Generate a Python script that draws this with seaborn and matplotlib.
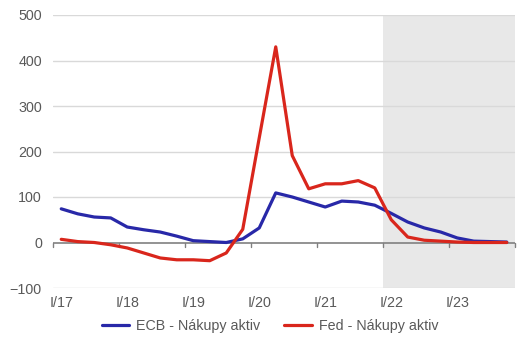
import matplotlib
matplotlib.use("Agg")
import matplotlib.pyplot as plt
import seaborn as sns
import pandas as pd
import numpy as np

quarters = [f"{q}/{y}" for y in range(17, 24) for q in ["I", "II", "III", "IV"]]
ecb = [74, 63, 56, 54, 34, 28, 23, 14, 4, 2, 0, 8, 32, 109,
       100, 89, 78, 91, 89, 82, 64, 45, 32, 23, 10, 3, 2, 1]
fed = [7, 2, 0, -5, -12, -23, -34, -38, -38, -40, -23, 29, 230, 430,
       191, 118, 129, 129, 136, 120, 50, 12, 5, 3, 1, 0, 0, 0]
tick_labels = ["I/17", "I/18", "I/19", "I/20", "I/21", "I/22", "I/23"]
series_names = ["ECB - Nákupy aktiv", "Fed - Nákupy aktiv"]

df = pd.DataFrame({
    "idx": list(range(len(quarters))) * 2,
    "value": ecb + fed,
    "series": [series_names[0]] * len(quarters) + [series_names[1]] * len(quarters),
})

sns.set_style("white")
plt.rcParams["font.family"] = ["Liberation Sans", "DejaVu Sans"]

fig = plt.figure(figsize=(5.25, 3.5), dpi=100)
ax = fig.add_axes([53 / 525, 1 - 288 / 350, (515 - 53) / 525, (288 - 15) / 350])

n = len(quarters)
ax.axvspan(19.5, n - 0.5, color="#E8E8E8", zorder=0, lw=0)
for v in [-100, 100, 200, 300, 400, 500]:
    ax.axhline(v, color="#D9D9D9", lw=1, zorder=1)
ax.axhline(0, color="#808080", lw=1.2, zorder=2)
for b in np.arange(-0.5, n, 4):
    ax.plot([b, b], [0, -9], color="#808080", lw=1, zorder=2, clip_on=False)

sns.lineplot(data=df, x="idx", y="value", hue="series",
             palette=["#2828A8", "#D9261C"], linewidth=2.3, ax=ax,
             legend=True, zorder=3)

fs = 10.3
ax.set_xlim(-0.5, n - 0.5)
ax.set_ylim(-100, 500)
ax.set_yticks([-100, 0, 100, 200, 300, 400, 500])
ax.set_xticks(range(0, n, 4))
ax.set_xticklabels(tick_labels)
ax.tick_params(axis="both", length=0, labelsize=fs, labelcolor="#595959")
ax.tick_params(axis="x", pad=6)
ax.tick_params(axis="y", pad=8)
ax.set_xlabel("")
ax.set_ylabel("")
for s in ax.spines.values():
    s.set_visible(False)

handles, labels = ax.get_legend_handles_labels()
ax.get_legend().remove()
fig.legend(handles, labels, loc="center", bbox_to_anchor=(270 / 525, 1 - 326 / 350),
           ncol=2, frameon=False, fontsize=fs, handlelength=1.9,
           handletextpad=0.5, columnspacing=1.7, labelcolor="#595959")

fig.savefig("out.png", dpi=100)
